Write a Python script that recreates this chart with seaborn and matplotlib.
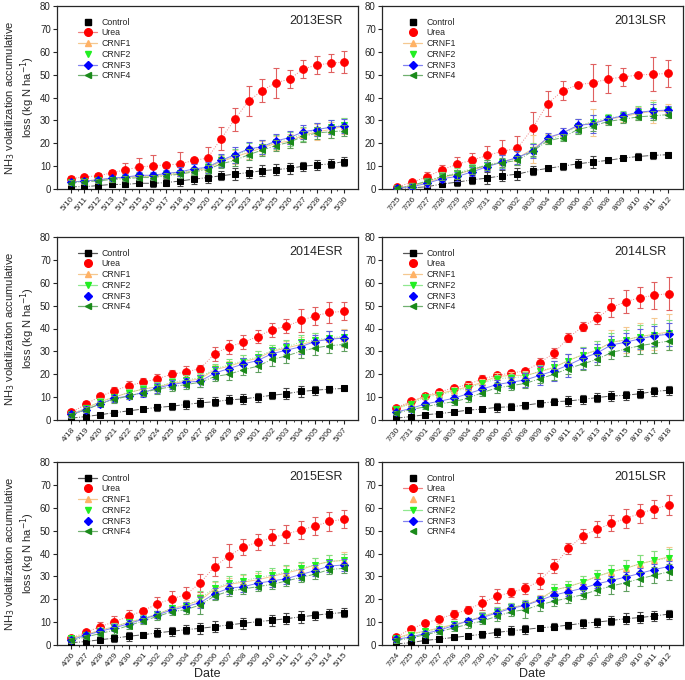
import numpy as np
import pandas as pd
import matplotlib
matplotlib.use('Agg')
import matplotlib.pyplot as plt
import seaborn as sns
from matplotlib.lines import Line2D

# ---------------- data ----------------
dates_13esr = ['5/10', '5/11', '5/12', '5/13', '5/14', '5/15', '5/16', '5/17', '5/18', '5/19', '5/20',
               '5/21', '5/22', '5/23', '5/24', '5/25', '5/26', '5/27', '5/28', '5/29', '5/30']
control_13esr = [1, 1, 1.5, 2, 2, 2.5, 2.5, 2.8, 3.5, 4.3, 5, 5.8, 6.5, 7.2, 8, 8.5, 9, 10, 10.5, 11, 12]
control_13esr_err = [1, 1, 1, 1, 1, 1, 1.5, 1.5, 2, 2, 2.5, 2, 2.5, 2.5, 2.5, 2.5, 2.5, 2, 2, 2, 2]
urea_13esr = [4.5, 5.3, 5.8, 7, 8.5, 9.5, 10.2, 10.5, 11, 12.5, 13.5, 22, 30.5, 38.5, 43, 46.5, 48, 52.5, 54.2, 55, 55.5]
urea_13esr_err = [1, 1, 1, 1.5, 3, 4, 4.5, 1, 5, 1, 5, 5, 5, 6.5, 5, 6.5, 4, 4, 4, 4, 5]
crnf1_13esr = [3, 3.5, 4, 4.5, 5, 5.5, 5.5, 6, 7, 8, 9, 12, 14, 16, 18, 20, 21, 23.5, 25, 26, 27.5]
crnf1_13esr_err = [1, 1, 1, 1, 1, 1, 1, 1, 1.5, 1.5, 2, 2.5, 3, 3, 3, 3, 3, 3, 3.5, 3.5, 3.5]
crnf2_13esr = [3, 3.5, 4, 4.5, 5, 5.5, 5.5, 6.5, 7, 8, 9.5, 12.5, 14.5, 17, 18.5, 20.5, 22, 24, 26, 27, 28]
crnf2_13esr_err = [1, 1, 1, 1, 1, 1, 1, 1, 1.5, 1.5, 2, 2.5, 3, 3, 3, 3, 3, 3, 3, 3, 3]
crnf3_13esr = [3, 3.5, 4, 4.8, 5.2, 6, 6, 6.8, 7.5, 8.8, 9.5, 12.5, 15, 17.5, 18.5, 21, 22.5, 25, 26, 27, 27.5]
crnf3_13esr_err = [1, 1, 1, 1, 1.5, 1.5, 1.5, 1.5, 2, 2, 2.5, 3, 3.5, 3, 3, 3, 3, 3, 3, 3, 3]
crnf4_13esr = [2.8, 3.2, 3.5, 4.2, 4.5, 5, 5, 5.8, 6.5, 7.5, 8.5, 11, 12.5, 15, 17, 19, 20.5, 23, 24.5, 25, 25.5]
crnf4_13esr_err = [1, 1, 1, 1, 1, 1, 1, 1, 1.5, 1.5, 2, 2, 2.5, 2.5, 2.5, 2.5, 2.5, 2.5, 2.5, 2.5, 2.5]

dates_13lsr = ['7/25', '7/26', '7/27', '7/28', '7/29', '7/30', '7/31', '8/01', '8/02', '8/03',
               '8/04', '8/05', '8/06', '8/07', '8/08', '8/09', '8/10', '8/11', '8/12']
control_13lsr = [0.3, 0.5, 1, 2.2, 3, 4, 4.8, 5.8, 6.5, 8, 9, 10, 11, 11.8, 12.5, 13.5, 14.2, 14.7, 15]
control_13lsr_err = [0.5, 0.5, 1, 1, 1.5, 2, 2.5, 2.5, 2.5, 2, 1, 1.5, 2, 2.5, 1, 1, 1.5, 1.5, 1]
urea_13lsr = [0.8, 3, 5.3, 8.5, 10.8, 12.7, 14.7, 16.5, 17.8, 26.5, 37.2, 43, 45.5, 46.5, 48, 49, 49.8, 50.2, 50.5]
urea_13lsr_err = [0.5, 0.5, 2, 2, 3, 3, 4, 5, 5.5, 7, 5.5, 4, 1, 8, 6, 4, 1, 7.5, 6]
crnf1_13lsr = [0.5, 1.5, 3, 5, 6.5, 8.5, 10, 12, 13.5, 17.5, 22, 24.5, 27.5, 29, 30.5, 31.5, 33, 34, 34]
crnf1_13lsr_err = [0.5, 1, 1.5, 2, 2, 2, 2, 3, 3, 6, 2, 2, 3, 6, 2, 2, 3, 5, 3]
crnf2_13lsr = [0.5, 1.5, 3.5, 5.5, 7, 9, 10.5, 12, 13.5, 17, 21.5, 23.5, 27.5, 29.5, 31, 32, 33.5, 34, 34.5]
crnf2_13lsr_err = [0.5, 1, 1.5, 2, 2, 2, 2, 3, 3, 3, 2, 2, 3, 3, 2, 2, 3, 4, 2]
crnf3_13lsr = [0.5, 1, 2.5, 4.5, 5.5, 7.5, 9.8, 11.8, 13.8, 16.5, 22.5, 24.5, 27.8, 28.5, 30.5, 32, 33.5, 34.2, 34.5]
crnf3_13lsr_err = [0.5, 1, 1.5, 1.5, 2, 2, 2, 3, 3, 3, 2, 2, 3, 4, 1.5, 1.5, 2, 3, 2]
crnf4_13lsr = [0.5, 1.5, 3.5, 5.5, 6.5, 8.5, 10.5, 11.5, 12.5, 16.5, 21, 22.5, 26, 27.5, 29.5, 30.5, 31.5, 32, 32.5]
crnf4_13lsr_err = [0.5, 1, 1.5, 1.5, 2, 2, 2, 2, 2, 2, 1.5, 1.5, 2, 2, 1.5, 1.5, 1.5, 2, 1.5]

dates_14esr = ['4/18', '4/19', '4/20', '4/21', '4/22', '4/23', '4/24', '4/25', '4/26', '4/27',
               '4/28', '4/29', '4/30', '5/01', '5/02', '5/03', '5/04', '5/05', '5/06', '5/07']
control_14esr = [0.8, 1.5, 2.3, 3.2, 4, 4.8, 5.5, 6, 6.8, 7.5, 8, 8.8, 9.2, 10, 10.8, 11.5, 12.5, 13, 13.5, 13.8]
control_14esr_err = [0.5, 0.5, 0.8, 1, 1, 1, 1.5, 1.5, 2, 2, 2, 2, 2, 2, 1.5, 2.5, 2.5, 2, 1.5, 1]
urea_14esr = [3.3, 6.8, 10.3, 12.8, 15, 16.5, 18, 20, 21, 22.5, 29, 32, 34, 36.5, 39.5, 41, 43.5, 45.5, 47, 47.5]
urea_14esr_err = [1, 1.5, 1, 1.5, 2, 2, 2, 2, 2.5, 1.5, 3, 3, 3, 3, 3, 3, 5, 4, 4.5, 4]
crnf1_14esr = [2.5, 5, 8, 10, 12, 13.5, 14.5, 16, 17, 18, 22, 23.5, 25.5, 27, 30, 31.5, 33, 34.5, 35.5, 36]
crnf1_14esr_err = [1, 1.5, 1.5, 1.5, 1.5, 2, 2, 2, 2, 2, 2, 2.5, 3, 3, 3, 3, 3.5, 3.5, 3.5, 4]
crnf2_14esr = [2.5, 5.2, 8, 10, 12, 13.5, 14.5, 16.5, 17.5, 18.5, 22.5, 24, 26, 27.5, 30.5, 32, 34, 35, 36, 36.5]
crnf2_14esr_err = [1, 1.5, 1.5, 1.5, 1.5, 2, 2, 2, 2, 2, 2, 2.5, 2.5, 2.5, 2.5, 3, 3, 3, 3, 3]
crnf3_14esr = [2.5, 4.5, 7, 9.5, 10.5, 12, 14, 15.5, 16.5, 17, 20.5, 22.5, 24.5, 26, 29, 30.5, 32, 34.3, 35.3, 35.8]
crnf3_14esr_err = [1, 1.5, 1.5, 1.5, 1.5, 2, 2, 2, 2, 2.5, 2.5, 2.5, 2.5, 2.5, 2.5, 3, 3, 3, 3.5, 3.5]
crnf4_14esr = [2, 4.5, 7, 9, 10.5, 12, 13.5, 14.5, 15.5, 16.5, 19, 20, 22, 23.5, 26.5, 28, 30, 31.5, 32.5, 33]
crnf4_14esr_err = [1, 1, 1, 1.5, 1.5, 1.5, 2, 2, 2, 2, 2, 2.5, 2.5, 2.5, 3, 3, 3, 3, 3, 3]

dates_14lsr = ['7/30', '7/31', '8/01', '8/02', '8/03', '8/04', '8/05', '8/06', '8/07', '8/08',
               '8/09', '8/10', '8/11', '8/12', '8/13', '8/14', '8/15', '8/16', '8/17', '8/18']
control_14lsr = [0.8, 1.5, 2.3, 2.8, 3.5, 4.3, 4.8, 5.5, 5.8, 6.5, 7.3, 8, 8.3, 9, 9.8, 10.5, 10.8, 11.5, 12.5, 13]
control_14lsr_err = [0.5, 0.5, 0.8, 0.8, 1, 1, 1, 2, 1.5, 1.5, 1.5, 1.5, 2, 2, 2, 2, 2, 2, 2, 2]
urea_14lsr = [5.3, 8.2, 10.5, 12.3, 14, 15.5, 18, 19.5, 20.5, 21.5, 25, 29.3, 36, 40.8, 44.5, 49.2, 51.7, 53.5, 54.5, 55.3]
urea_14lsr_err = [0.5, 1, 1, 1, 1, 1.5, 1.5, 1, 1, 1, 2, 2, 2, 2, 2.5, 4, 5, 4.5, 6, 7]
crnf1_14lsr = [5, 7.5, 10.5, 11.5, 13, 14.5, 16.5, 19, 19.5, 19.5, 21, 23, 26, 28.5, 30.5, 34, 35, 36.5, 37.5, 38.5]
crnf1_14lsr_err = [1, 1, 1, 1, 1.5, 1.5, 1.5, 1.5, 1.5, 2, 2.5, 3, 3, 3.5, 4, 5.5, 5.5, 6, 7, 8]
crnf2_14lsr = [5, 7, 10, 11, 12.5, 14, 16, 18, 18.5, 19, 21.5, 23, 26, 28.5, 30.5, 34, 35, 36.5, 37, 38]
crnf2_14lsr_err = [1, 1, 1, 1, 1.5, 1.5, 1.5, 1.5, 1.5, 2, 2.5, 3, 3, 3.5, 4, 4, 4.5, 5, 5, 5.5]
crnf3_14lsr = [3.5, 5, 7, 8.2, 9.5, 11.5, 13.5, 15.5, 16.5, 17.5, 19.5, 21.5, 24, 27, 29.3, 32.8, 34, 35.5, 36.8, 37.5]
crnf3_14lsr_err = [1, 1, 1, 1.5, 1.5, 2, 2, 2, 2.5, 3, 4, 4.5, 5, 4.5, 4, 4, 4, 4.5, 4.5, 5]
crnf4_14lsr = [3, 4.5, 5.8, 7, 8, 9.5, 12, 14, 15, 16, 18, 20, 22.5, 24.5, 26.5, 29.5, 31, 32.5, 33.5, 34.5]
crnf4_14lsr_err = [1, 1, 1, 1, 1.5, 1.5, 1.5, 2, 2, 2, 2, 2.5, 2.5, 2.5, 2.5, 3, 3, 3.5, 4, 4]

dates_15esr = ['4/26', '4/27', '4/28', '4/29', '4/30', '5/01', '5/02', '5/03', '5/04', '5/05',
               '5/06', '5/07', '5/08', '5/09', '5/10', '5/11', '5/12', '5/13', '5/14', '5/15']
control_15esr = [1, 1.5, 2.3, 3, 3.8, 4.5, 5.3, 6, 6.7, 7.3, 8, 8.8, 9.5, 10.2, 10.8, 11.5, 12.3, 13, 13.7, 14.2]
control_15esr_err = [0.5, 1, 1, 1.5, 2, 1, 2, 2, 2, 2.5, 2.5, 1.5, 2.5, 1.5, 2.5, 2.5, 2.5, 2, 2, 2]
urea_15esr = [3, 5.5, 8, 10.2, 12.5, 15, 18, 20.2, 22, 27.2, 34.3, 39, 42.8, 45, 47, 48.5, 50.3, 52, 54, 55]
urea_15esr_err = [0.5, 1, 2, 2.5, 3, 1, 3, 3.5, 3.5, 4, 4, 5, 3.5, 3.5, 3.5, 4, 4, 4, 4, 4]
crnf1_15esr = [3, 4.5, 6.5, 8, 10, 11.5, 13.5, 16, 17.5, 19.5, 24.5, 26.5, 27.5, 28.5, 30, 31.5, 33, 35, 36.5, 37]
crnf1_15esr_err = [1, 1, 1.5, 1.5, 1.5, 1.5, 1.5, 1.5, 2, 3, 3, 3, 3, 3, 3, 3, 3, 3, 3, 3.5]
crnf2_15esr = [3, 4.5, 6, 8, 10, 11.5, 13.5, 16, 17, 20.5, 25, 27, 28, 29.5, 30.5, 32, 33.5, 35, 36.5, 37]
crnf2_15esr_err = [1, 1, 1.5, 1.5, 1.5, 1.5, 1.5, 1.5, 2, 3, 3, 3, 3, 3, 3, 3, 3, 3, 3, 3]
crnf3_15esr = [2.3, 4.2, 6, 7.5, 9.3, 11.3, 13.2, 15.3, 16.8, 18.5, 22.5, 24.8, 25.5, 27, 28, 29, 30.8, 32.5, 34.5, 35]
crnf3_15esr_err = [1, 1, 1, 1.5, 1.5, 1.5, 1.5, 1.5, 2, 2.5, 2.5, 2.5, 2.5, 2.5, 2.5, 2.5, 2.5, 2.5, 2.5, 2.5]
crnf4_15esr = [2, 3.5, 5, 6.5, 8.5, 10.5, 12.5, 14.5, 15.5, 17.5, 21.5, 23.5, 24.5, 25.5, 26.5, 28, 29.5, 31, 33, 33.5]
crnf4_15esr_err = [1, 1, 1, 1.5, 1.5, 1.5, 1.5, 1.5, 2, 4, 2, 2, 2, 2, 2, 2, 2, 2, 2, 2]

dates_15lsr = ['7/24', '7/25', '7/26', '7/27', '7/28', '7/29', '7/30', '7/31', '8/01', '8/02',
               '8/03', '8/04', '8/05', '8/06', '8/07', '8/08', '8/09', '8/10', '8/11', '8/12']
control_15lsr = [0.5, 1, 2, 2.6, 3.3, 4, 4.7, 5.5, 6.2, 6.8, 7.5, 8, 8.7, 9.5, 10, 10.7, 11.5, 12, 12.7, 13.5]
control_15lsr_err = [0.5, 1, 1, 1, 1, 1, 1.5, 2, 2, 2, 1, 1.5, 1.5, 2, 2, 2, 2.5, 2.5, 2, 2]
urea_15lsr = [3.5, 7, 9.5, 11.5, 13.5, 15.5, 18.5, 21.3, 23, 24.8, 28, 34.5, 42.2, 47.7, 50.5, 53.2, 55.3, 57.5, 59.5, 61.2]
urea_15lsr_err = [1, 1, 1, 1, 2, 1.5, 3, 3, 2, 2.5, 3.5, 3, 2.5, 3, 3.5, 3.5, 4, 4, 4, 4.5]
crnf1_15lsr = [3, 5, 6, 7.5, 9, 10.5, 12.5, 14.5, 16.5, 17.5, 20, 24, 25.5, 27.5, 30, 32, 33.5, 35.5, 37, 38.5]
crnf1_15lsr_err = [1, 1, 1, 1.5, 1.5, 1.5, 2, 2, 2, 2, 2, 2.5, 2.5, 2.5, 3, 3, 3.5, 4, 4, 4.5]
crnf2_15lsr = [3, 4.5, 6, 7, 9, 10.5, 12.5, 14.5, 16.5, 17.5, 19.5, 24, 25.5, 27.5, 30, 32, 33.5, 35.5, 37, 38]
crnf2_15lsr_err = [1, 1, 1, 1.5, 1.5, 1.5, 2, 2, 2, 2, 2, 2.5, 2.5, 2.5, 3, 3, 3.5, 4, 4, 4]
crnf3_15lsr = [2.5, 3.5, 5, 6.5, 8.5, 10.5, 12, 14, 16, 17.3, 19.5, 21.8, 23.3, 24.8, 26.7, 28.2, 29.7, 31.3, 33, 34.3]
crnf3_15lsr_err = [1, 1, 1, 1.5, 1.5, 1.5, 2, 2, 2, 2, 2, 2, 2, 2, 2, 2, 2, 2.5, 2.5, 2.5]
crnf4_15lsr = [2, 3, 4.5, 5.8, 7.5, 9, 10.5, 12.5, 14.5, 15.5, 17.5, 19.2, 20.5, 22, 24, 25.8, 27.2, 29, 30.5, 32]
crnf4_15lsr_err = [1, 1, 1, 1, 1.5, 1.5, 1.5, 2, 2, 3.5, 2.5, 2, 2, 2, 2, 3.5, 3.5, 3, 3.5, 3.5]

treatments = ['Control', 'Urea', 'CRNF1', 'CRNF2', 'CRNF3', 'CRNF4']
panel_titles = ['2013ESR', '2013LSR', '2014ESR', '2014LSR', '2015ESR', '2015LSR']

panels = [
    (dates_13esr, [control_13esr, urea_13esr, crnf1_13esr, crnf2_13esr, crnf3_13esr, crnf4_13esr],
     [control_13esr_err, urea_13esr_err, crnf1_13esr_err, crnf2_13esr_err, crnf3_13esr_err, crnf4_13esr_err]),
    (dates_13lsr, [control_13lsr, urea_13lsr, crnf1_13lsr, crnf2_13lsr, crnf3_13lsr, crnf4_13lsr],
     [control_13lsr_err, urea_13lsr_err, crnf1_13lsr_err, crnf2_13lsr_err, crnf3_13lsr_err, crnf4_13lsr_err]),
    (dates_14esr, [control_14esr, urea_14esr, crnf1_14esr, crnf2_14esr, crnf3_14esr, crnf4_14esr],
     [control_14esr_err, urea_14esr_err, crnf1_14esr_err, crnf2_14esr_err, crnf3_14esr_err, crnf4_14esr_err]),
    (dates_14lsr, [control_14lsr, urea_14lsr, crnf1_14lsr, crnf2_14lsr, crnf3_14lsr, crnf4_14lsr],
     [control_14lsr_err, urea_14lsr_err, crnf1_14lsr_err, crnf2_14lsr_err, crnf3_14lsr_err, crnf4_14lsr_err]),
    (dates_15esr, [control_15esr, urea_15esr, crnf1_15esr, crnf2_15esr, crnf3_15esr, crnf4_15esr],
     [control_15esr_err, urea_15esr_err, crnf1_15esr_err, crnf2_15esr_err, crnf3_15esr_err, crnf4_15esr_err]),
    (dates_15lsr, [control_15lsr, urea_15lsr, crnf1_15lsr, crnf2_15lsr, crnf3_15lsr, crnf4_15lsr],
     [control_15lsr_err, urea_15lsr_err, crnf1_15lsr_err, crnf2_15lsr_err, crnf3_15lsr_err, crnf4_15lsr_err]),
]

# which legend entries show a line sample (differs per panel in the original)
legend_lines = [
    [False, True, True, False, True, True],
    [False, False, True, False, True, True],
    [True, False, True, True, False, True],
    [True, False, True, True, False, True],
    [True, False, True, False, False, True],
    [False, True, False, True, True, False],
]

# ---------------- style ----------------
sns.set_style("ticks")
plt.rcParams['font.family'] = ['Liberation Sans', 'DejaVu Sans']

marker_colors = ['#000000', '#FF0000', '#FFB266', '#22EE22', '#0000FF', '#1A8A1A']
line_colors = ['#555555', '#F08080', '#F5C890', '#90E890', '#8080F0', '#70B070']
err_colors = ['#444444', '#E06060', '#F5C890', '#80E080', '#6060E0', '#60A060']
markers = ['s', 'o', '^', 'v', 'D', '<']
msizes = [5, 5.5, 5, 5, 4, 5]
lstyles = ['-.', ':', '-', ':', '-', '-.']

fig = plt.figure(figsize=(6.85, 6.8), dpi=100)
lefts = [57 / 685, 382 / 685]
width = 301 / 685
bottoms = [1 - 189 / 680, 1 - 420 / 680, 1 - 645 / 680]
height = 183 / 680

for p, (dates, vals, errs) in enumerate(panels):
    row, col = divmod(p, 2)
    ax = fig.add_axes([lefts[col], bottoms[row], width, height])
    n = len(dates)
    idx = np.arange(n)

    for k, name in enumerate(treatments):
        df = pd.DataFrame({'x': idx, 'y': vals[k]})
        ax.errorbar(idx, vals[k], yerr=errs[k], fmt='none', ecolor=err_colors[k],
                    elinewidth=0.8, capsize=2, capthick=0.8, zorder=2 + k)
        sns.lineplot(data=df, x='x', y='y', ax=ax, color=line_colors[k], linewidth=0.7,
                     linestyle=lstyles[k], marker=markers[k], markersize=msizes[k],
                     markerfacecolor=marker_colors[k], markeredgecolor=marker_colors[k],
                     zorder=3 + k)

    ax.set_xlim(-1, n)
    ax.set_ylim(0, 80)
    ax.set_yticks(range(0, 81, 10))
    ax.set_xticks(idx)
    ax.set_xticklabels(dates, rotation=50, fontsize=6, ha='right', rotation_mode='anchor')
    ax.set_xticks(idx[:-1] + 0.5, minor=True)
    ax.tick_params(axis='y', labelsize=7, length=3, width=0.8, pad=1.5)
    ax.tick_params(axis='x', which='major', length=3, width=0.8, pad=1.5)
    ax.tick_params(axis='x', which='minor', length=1.5, width=0.6)
    for s in ax.spines.values():
        s.set_linewidth(0.9)

    if col == 0:
        ax.set_ylabel('NH$_3$ volatilization accumulative\nloss (kg N ha$^{-1}$)', fontsize=8,
                      linespacing=1.1)
        ax.yaxis.set_label_coords(-0.068, 0.5)
    else:
        ax.set_ylabel('')
    if row == 2:
        ax.set_xlabel('Date', fontsize=9, labelpad=0)
    else:
        ax.set_xlabel('')

    ax.text(0.86, 0.92, panel_titles[p], transform=ax.transAxes, ha='center', va='center',
            fontsize=9)

    handles = []
    for k, name in enumerate(treatments):
        handles.append(Line2D([], [], color=line_colors[k], linewidth=0.9,
                              linestyle='-' if legend_lines[p][k] else 'none',
                              marker=markers[k], markersize=msizes[k],
                              markerfacecolor=marker_colors[k], markeredgecolor=marker_colors[k]))
    ax.legend(handles, treatments, loc='upper left', bbox_to_anchor=(0.05, 0.97), frameon=False,
              fontsize=6.3, labelspacing=0.2, handlelength=2.2, handletextpad=0.5, borderpad=0.2)

fig.savefig('out.png', dpi=100)
